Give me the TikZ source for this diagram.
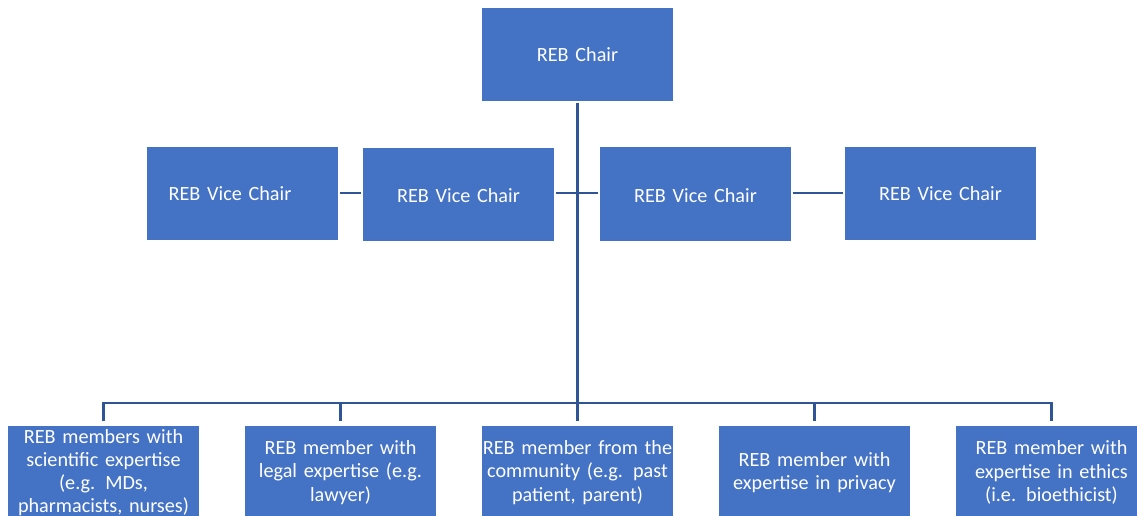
\documentclass[tikz,border=0pt]{standalone}
\usepackage{fontspec}
\setmainfont{Carlito}
\usetikzlibrary{positioning, calc}
\definecolor{rebblue}{HTML}{4472C4}
\definecolor{rebline}{HTML}{2F5597}
\tikzset{
    box/.style={ % Sets the properties for each box
        rectangle,
        fill=rebblue, draw=white, line width=0.6pt,
        minimum width=3.86cm, minimum height=1.9cm,
        text width=3.8cm, align=center, inner sep=0pt,
        text=white,
        font=\fontsize{11.5}{13.2}\selectfont
    },
    link/.style={ % Sets the properties for each connector
        draw=rebline,
        line width=1.4pt
    },
}

\begin{document}
\begin{tikzpicture}[x=0.02cm, y=-0.02cm]
            \clip (0,0) rectangle (1137,516);
            \node[box]  (chair)     at (577.5,54.5)     {REB Chair};
            \node[box]  (vcA)       at (242.5,193.5)    {REB Vice Chair\hspace*{0.5cm}};
            \node[box]  (vcB)       at (458.5,194.5)    {\raisebox{-3.4mm}{REB Vice Chair}};
            \node[box]  (vcC)       at (695.5,194)      {\raisebox{-3.4mm}{REB Vice Chair}};
            \node[box]  (vcD)       at (940.5,193.5)    {REB Vice Chair};

            \node[box]  (memA)      at (103.5,472.5)    {REB members with\\ scientific expertise\\ (e.g. MDs,\\ pharmacists, nurses)};
            \node[box]  (memB)      at (340.5,472.5)    {REB member with\\ legal expertise (e.g.\\ lawyer)};
            \node[box]  (memC)      at (577.5,472.5)    {REB member from the\\ community (e.g. past\\ patient, parent)};
            \node[box]  (memD)      at (814.5,472.5)    {REB member with\\ expertise in privacy};
            \node[box]  (memE)      at (1051.5,472.5)   {REB member with\\ expertise in ethics\\ (i.e. bioethicist)};

            \coordinate (hub)   at (577.5,193);
            \coordinate (bar)   at (577.5,403);

            \draw[link] (chair.south) -- (bar);
            \draw[link] (vcA.east |- hub) -- (vcB.west |- hub);
            \draw[link] (vcB.east |- hub) -- (vcC.west |- hub);
            \draw[link] (vcC.east |- hub) -- (vcD.west |- hub);
            \foreach \m in {memA, memB, memC, memD, memE}
                \draw[link, shorten >=2pt] (bar) -| (\m.north);
        \end{tikzpicture}
\end{document}
